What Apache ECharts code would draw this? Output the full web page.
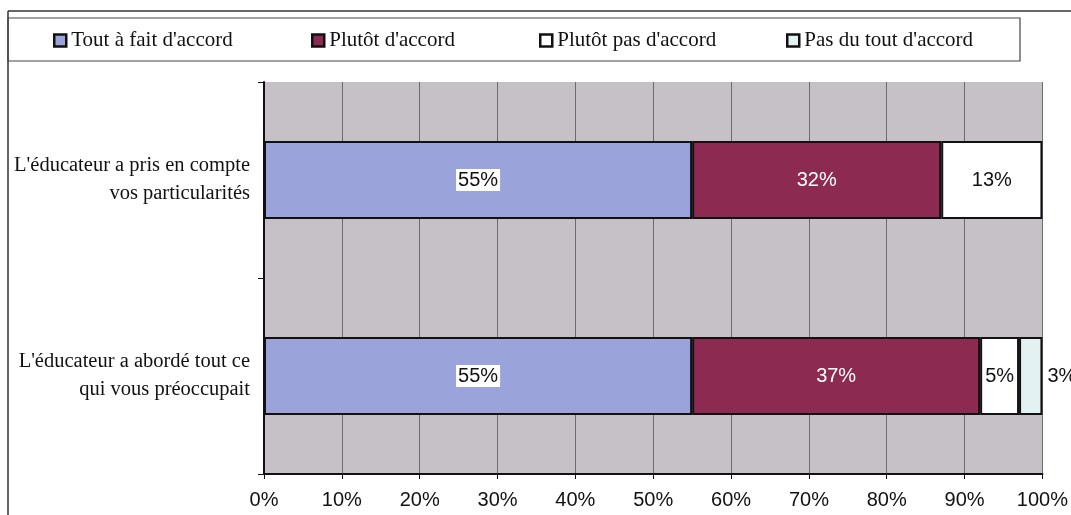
<!DOCTYPE html>
<html>
<head>
	<meta charset="UTF-8">
	<title></title>
	<style>
		body { margin: 0; background: #fff; }
		#chart { width: 1071px; height: 515px; }
	</style>
	<script src="https://cdn.jsdelivr.net/npm/echarts@6/dist/echarts.min.js"></script>
</head>
<body>
	<div id="chart"></div>
	<script>
		var categories = ["L'éducateur a pris en compte\nvos particularités", "L'éducateur a abordé tout ce\nqui vous préoccupait"];
		var names = ["Tout à fait d'accord", "Plutôt d'accord", "Plutôt pas d'accord", "Pas du tout d'accord"];
		var toutAFait = [55, 55];
		var plutot = [32, 37];
		var plutotPas = [13, 5];
		var pasDuTout = [null, 3];
		var colors = ['#9ba4da', '#8c2a52', '#ffffff', '#e4f1f3'];
		var legendX = [53, 311, 539, 786];

		var myChart = echarts.init(document.getElementById('chart'));

		function label(color, pos, bg) {
			var l = {
				show: true,
				position: pos,
				color: color,
				fontFamily: 'Liberation Sans',
				fontSize: 20,
				formatter: function (p) { return p.value ? p.value + '%' : ''; }
			};
			if (bg) {
				l.backgroundColor = bg;
				l.padding = [2, 2, 0, 2];
			}
			return l;
		}

		var values = [toutAFait, plutot, plutotPas, pasDuTout];
		var labels = [
			label('#111', 'inside', '#fff'),
			label('#fff', 'inside'),
			label('#111', 'inside'),
			label('#111', 'right')
		];

		var series = [];
		var legends = [];
		names.forEach(function (n, i) {
			series.push({
				name: n,
				type: 'bar',
				stack: 'total',
				data: values[i],
				barWidth: 78,
				itemStyle: { color: colors[i], borderColor: '#111', borderWidth: 2 },
				label: labels[i],
				emphasis: { disabled: true }
			});
			legends.push({
				data: [n],
				left: legendX[i],
				top: 30,
				icon: 'rect',
				itemWidth: 12,
				itemHeight: 12,
				itemGap: 4,
				padding: 0,
				selectedMode: false,
				itemStyle: { color: colors[i], borderColor: '#111', borderWidth: 2.5 },
				textStyle: { fontFamily: 'Liberation Serif', fontSize: 21, color: '#111' }
			});
		});

		var option = {
			animation: false,
			backgroundColor: '#fff',
			graphic: [
				{ type: 'line', shape: { x1: 8, y1: 11, x2: 1071, y2: 11 }, style: { stroke: '#333', lineWidth: 1.5 } },
				{ type: 'line', shape: { x1: 8, y1: 11, x2: 8, y2: 515 }, style: { stroke: '#333', lineWidth: 1.5 } },
				{ type: 'rect', shape: { x: 8, y: 18, width: 1012, height: 43 }, style: { fill: 'none', stroke: '#444', lineWidth: 1.2 } }
			],
			legend: legends,
			grid: {
				left: 264, right: 28, top: 82, bottom: 41,
				show: true, backgroundColor: '#c5c1c6', borderWidth: 0
			},
			xAxis: {
				type: 'value',
				min: 0, max: 100, interval: 10,
				axisLine: { show: true, lineStyle: { color: '#111', width: 2 } },
				axisTick: { show: true, length: 5, lineStyle: { color: '#111' } },
				axisLabel: { formatter: '{value}%', fontFamily: 'Liberation Sans', fontSize: 20, color: '#111', margin: 16 },
				splitLine: { show: true, lineStyle: { color: '#6e6a70', width: 1 } }
			},
			yAxis: {
				type: 'category',
				data: categories,
				inverse: true,
				axisLine: { show: true, lineStyle: { color: '#111', width: 2 } },
				axisTick: { show: true, length: 6, lineStyle: { color: '#111' } },
				axisLabel: { fontFamily: 'Liberation Serif', fontSize: 20.5, color: '#111', lineHeight: 28, margin: 14, align: 'right' }
			},
			series: series
		};

		myChart.setOption(option);
	</script>
</body>
</html>
